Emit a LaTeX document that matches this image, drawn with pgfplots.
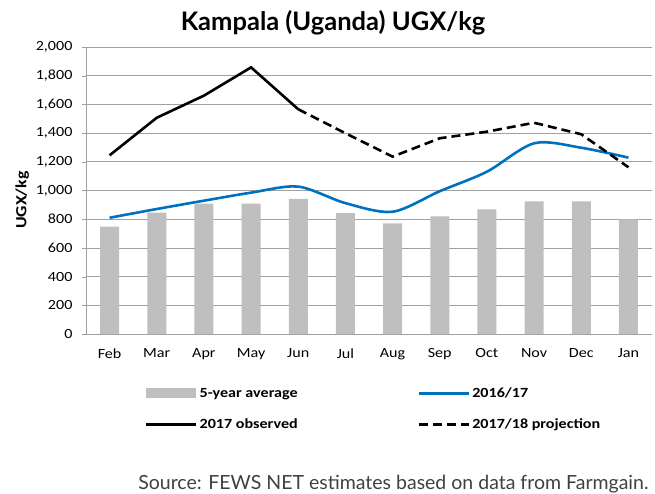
\documentclass[border=0pt]{standalone}
\usepackage{pgfplots}
\pgfplotsset{compat=1.18}
\usepackage{fontspec}
\setmainfont{Carlito}[FakeStretch=1.15]
\newfontfamily\titlefont{Lato}
\definecolor{bargray}{HTML}{BFBFBF}
\definecolor{lineblue}{HTML}{0070C0}
\definecolor{gridgray}{HTML}{A0A0A0}

\begin{document}
\begin{tikzpicture}[x=1pt,y=1pt]
  \path[use as bounding box] (0,0) rectangle (655,493);
  \begin{axis}[
    at={(86pt,159pt)}, anchor=south west,
    scale only axis, width=566pt, height=287pt,
    xmin=-0.5, xmax=11.5,
    ymin=0, ymax=2000,
    xtick=data,
    xticklabels={Feb,Mar,Apr,May,Jun,Jul,Aug,Sep,Oct,Nov,Dec,Jan},
    ytick={0,200,...,2000},
    yticklabel style={/pgf/number format/.cd,fixed,1000 sep={,}},
    /pgf/number format/assume math mode=true,
    ticklabel style={font=\fontsize{14}{16}\selectfont},
    x tick style={draw=none},
    y tick style={gridgray},
    tick align=outside, major tick length=4pt,
    ymajorgrids, grid style={gridgray, line width=0.8pt},
    axis line style={gridgray, line width=0.8pt},
    axis x line*=bottom, axis y line*=left,
    xtick pos=bottom, ytick pos=left,
    yticklabel shift=6pt, xticklabel shift=7pt,
    ylabel={\bfseries UGX/kg},
    ylabel style={font=\fontsize{15.5}{17}\selectfont, at={(ticklabel cs:0.47)}, xshift=-1pt},
    legend columns=2,
    legend cell align=left,
    legend style={draw=none, fill=none, inner sep=0pt,
      at={(rel axis cs:0.104,-0.2613)}, anchor=west,
      font=\fontsize{14}{16}\selectfont\bfseries,
      /tikz/every even column/.append style={column sep=0pt},
      row sep=16pt},
    ]
    \addplot[ybar, bar width=19pt, fill=bargray, draw=none,
      legend image code/.code={\fill[bargray] (0pt,-5pt) rectangle (50pt,5pt);}]
      coordinates {
      (0,748) (1,845) (2,908) (3,908) (4,941) (5,843)
      (6,771) (7,820) (8,869) (9,925) (10,925) (11,799)
    };
    \addlegendentry{\makebox[216pt][l]{5-year average}}
    \addplot[lineblue, line width=2.6pt, smooth, tension=0.5,
      legend image code/.code={\draw[lineblue, line width=2.6pt] (0pt,0pt) -- (50pt,0pt);}]
      coordinates {
      (0,810) (1,871) (2,929) (3,985) (4,1027) (5,912)
      (6,852) (7,995) (8,1131) (9,1329) (10,1298) (11,1229)
    };
    \addlegendentry{2016/17}
    \addplot[black, line width=2.6pt,
      legend image code/.code={\draw[black, line width=2.6pt] (0pt,0pt) -- (50pt,0pt);}]
      coordinates {
      (0,1245) (1,1507) (2,1661) (3,1858) (4,1566)
    };
    \addlegendentry{2017 observed}
    \addplot[black, line width=2.6pt, dash pattern=on 9pt off 5pt,
      legend image code/.code={\draw[black, line width=2.6pt, dash pattern=on 9pt off 5pt] (0pt,0pt) -- (50pt,0pt);}]
      coordinates {
      (4,1566) (5,1399) (6,1236) (7,1364) (8,1410) (9,1472) (10,1392) (11,1162)
    };
    \addlegendentry{2017/18 projection}
  \end{axis}
  \node[font=\titlefont\bfseries\fontsize{25.5}{28}\selectfont] at (333,470) {Kampala (Uganda) UGX/kg};
  \node[anchor=east, font=\titlefont\fontsize{19.5}{22}\selectfont, text=black!75] at (652,9) {Source: FEWS NET estimates based on data from Farmgain.};
\end{tikzpicture}
\end{document}
